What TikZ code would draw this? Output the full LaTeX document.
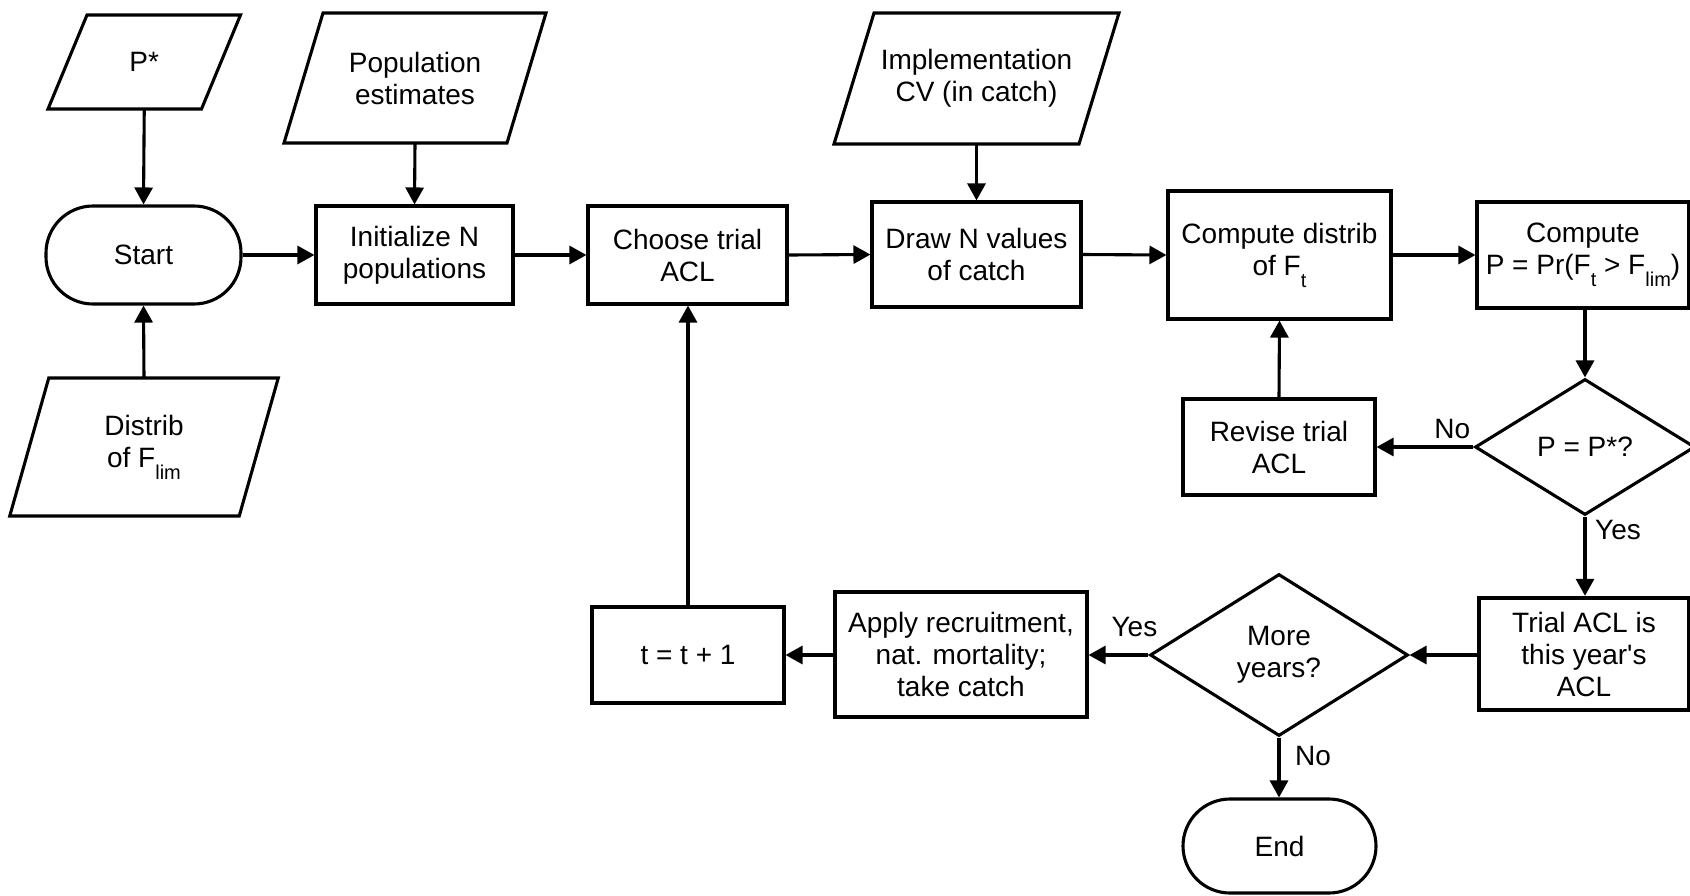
\documentclass[tikz,border=0pt]{standalone}
\usepackage{fontspec}
\setmainfont{Liberation Sans}[Ligatures=TeXOff]
\usetikzlibrary{arrows.meta,shapes.geometric}
\newcommand{\sbs}[1]{\raisebox{-12pt}{\fontsize{20}{20}\selectfont #1}}
\begin{document}
\begin{tikzpicture}[x=1pt,y=-1pt,
  base/.style={font=\fontsize{28}{32}\selectfont, align=center, inner sep=0pt},
  box/.style={base, draw, line width=3.1pt, rectangle},
  thickbox/.style={base, draw, line width=4.4pt, rectangle},
  term/.style={base, draw, line width=3.1pt, rectangle, rounded corners=47pt},
  dec/.style={base, draw, line width=3.1pt, diamond},
  paratext/.style={base, outer sep=0pt},
  paraline/.style={line width=3.1pt, line join=miter},
  conn/.style={line width=3.1pt, -{Triangle[length=17pt,width=18pt]}},
  lbl/.style={font=\fontsize{28}{32}\selectfont, inner sep=0pt}
]
\useasboundingbox (0,0) rectangle (1690,895);

% input parallelograms
\node[paratext, minimum width=153.5pt, minimum height=94pt] (pstar) at (144.25,62) {P*};
\draw[paraline] ([xshift=19.5pt]pstar.north west) -- ([xshift=19.5pt]pstar.north east) -- ([xshift=-19.5pt]pstar.south east) -- ([xshift=-19.5pt]pstar.south west) -- cycle;

\node[paratext, minimum width=223pt, minimum height=130pt] (pop) at (415,78) {Population\\estimates};
\draw[paraline] ([xshift=19.5pt]pop.north west) -- ([xshift=19.5pt]pop.north east) -- ([xshift=-19.5pt]pop.south east) -- ([xshift=-19.5pt]pop.south west) -- cycle;

\node[paratext, minimum width=245pt, minimum height=131pt] (impl) at (976.5,78.5) {Implementation\\CV (in catch)};
\draw[paraline] ([xshift=20pt]impl.north west) -- ([xshift=20pt]impl.north east) -- ([xshift=-20pt]impl.south east) -- ([xshift=-20pt]impl.south west) -- cycle;

\node[paratext, minimum width=229.5pt, minimum height=138pt] (distrib) at (144,447) {Distrib\\of F\sbs{lim}};
\draw[paraline] ([xshift=19.5pt]distrib.north west) -- ([xshift=19.5pt]distrib.north east) -- ([xshift=-19.5pt]distrib.south east) -- ([xshift=-19.5pt]distrib.south west) -- cycle;

% terminals
\node[term, minimum width=195pt, minimum height=98pt] (start) at (143.5,255) {Start};
\node[term, minimum width=193pt, minimum height=94pt] (end) at (1279.5,846) {End};

% process boxes
\node[box, minimum width=197pt, minimum height=98pt] (init) at (414.5,255) {Initialize N\\populations};
\node[box, minimum width=199pt, minimum height=98pt] (choose) at (687.5,255) {Choose trial\\ACL};
\node[box, minimum width=209pt, minimum height=105pt] (drawn) at (976.5,254.5) {Draw N values\\of catch};
\node[box, minimum width=223pt, minimum height=128pt] (compd) at (1279.5,255) {Compute distrib\\of F\sbs{t}};
\node[box, minimum width=212pt, minimum height=106pt] (compp) at (1583,255) {Compute\\P = Pr(F\sbs{t} > F\sbs{lim})};
\node[box, minimum width=192pt, minimum height=96pt] (revise) at (1279,447) {Revise trial\\ACL};
\node[thickbox, minimum width=210pt, minimum height=112pt] (trial) at (1584,654) {Trial ACL is\\this year's\\ACL};
\node[box, minimum width=252pt, minimum height=125pt] (apply) at (961,654.5) {Apply recruitment,\\nat. mortality;\\take catch};
\node[box, minimum width=192pt, minimum height=96pt] (tbox) at (688,655) {t = t + 1};

% decisions
\node[dec, minimum width=220pt, minimum height=136pt] (pp) at (1585,447) {P = P*?};
\node[dec, minimum width=258pt, minimum height=162pt] (my) at (1279,655) {More\\years?};

% connectors
\draw[conn] (pstar.south) -- (start.north);
\draw[conn] (distrib.north) -- (start.south);
\draw[conn] (start.east) -- (init.west);
\draw[conn] (pop.south) -- (init.north);
\draw[conn] (init.east) -- (choose.west);
\draw[conn] (choose.east) -- (drawn.west);
\draw[conn] (impl.south) -- (drawn.north);
\draw[conn] (drawn.east) -- (compd.west);
\draw[conn] (compd.east) -- (compp.west);
\draw[conn] (pp.north |- compp.south) -- (pp.north);
\draw[conn] (pp.west) -- (revise.east);
\draw[conn] (revise.north) -- (compd.south);
\draw[conn] (pp.south) -- (trial.north -| pp.south);
\draw[conn] (trial.west |- my.east) -- (my.east);
\draw[conn] (my.west) -- (apply.east |- my.west);
\draw[conn] (apply.west |- tbox.east) -- (tbox.east);
\draw[conn] (tbox.north) -- (choose.south -| tbox.north);
\draw[conn] (my.south) -- (end.north -| my.south);

% labels
\node[lbl, anchor=base east] (lno1) at ([xshift=-3pt,yshift=9pt]pp.west) {No};
\node[lbl, anchor=base west] (lyes1) at ([xshift=10pt,yshift=-23pt]pp.south) {Yes};
\node[lbl, anchor=base east] (lyes2) at ([xshift=9pt,yshift=19pt]my.west) {Yes};
\node[lbl, anchor=base west] (lno2) at ([xshift=16pt,yshift=-28pt]my.south) {No};
\end{tikzpicture}
\end{document}
